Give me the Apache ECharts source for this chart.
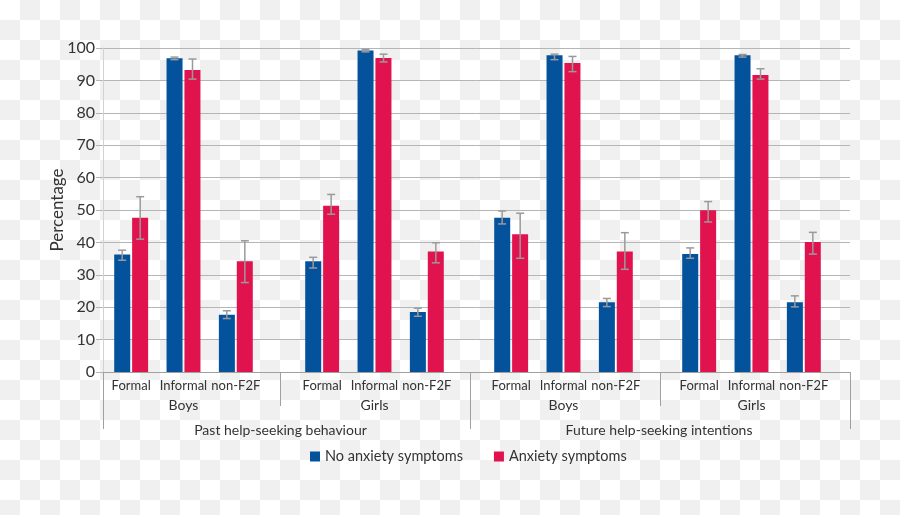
<!DOCTYPE html>
<html>
<head>
<meta charset="utf-8">
<script src="https://cdn.jsdelivr.net/npm/echarts@6/dist/echarts.min.js"></script>
<style>
html,body{margin:0;padding:0;}
body{width:900px;height:515px;background-color:#fff;
background-image:conic-gradient(#f0f0f0 25%, #fff 0 50%, #f0f0f0 0 75%, #fff 0);
background-size:40px 40px;}
#chart{width:900px;height:515px;}
</style>
</head>
<body>
<div id="chart"></div>
<script>
const categories = ['Formal', 'Informal', 'non-F2F'];
const subgroups = ['Boys', 'Girls', 'Boys', 'Girls'];
const groups = ['Past help-seeking behaviour', 'Future help-seeking intentions'];
const yTicks = [0, 10, 20, 30, 40, 50, 60, 70, 80, 90, 100];
const seriesNames = ['No anxiety symptoms', 'Anxiety symptoms'];

// 12 values each: Past Boys (F, I, n), Past Girls, Future Boys, Future Girls
const noAnx     = [36.3, 96.8, 17.7, 34.2, 99.2, 18.5, 47.6, 97.8, 21.5, 36.4, 97.8, 21.5];
const noAnxLow  = [34.5, 96.4, 16.5, 32.1, 98.8, 17.2, 45.7, 96.4, 20.2, 35.1, 97.2, 20.1];
const noAnxHigh = [37.6, 97.2, 18.9, 35.4, 99.6, 19.7, 49.7, 98.1, 22.7, 38.3, 98.0, 23.5];
const anx       = [47.6, 93.2, 34.2, 51.3, 96.9, 37.2, 42.5, 95.4, 37.2, 49.9, 91.7, 40.1];
const anxLow    = [41.0, 90.4, 27.6, 48.7, 95.7, 33.7, 35.1, 92.7, 31.7, 46.3, 90.4, 36.4];
const anxHigh   = [54.1, 96.6, 40.5, 54.8, 98.1, 39.9, 49.0, 97.4, 43.0, 52.6, 93.6, 43.1];

const FONT = 'Lato';
const TXT = '#333';
const BLUE = '#03529b';
const RED = '#e1134f';
const TOP = 48, H = 324;

const barGridLeft = [105, 296, 485, 673];
const barGridW = 157;
const sepLeft = [103, 280, 470, 660, 850];
const grpLeft = [103, 470, 850];

const grid = [], xAxis = [], yAxis = [], series = [];
// main grid
grid.push({left: 103, width: 747, top: TOP, height: H});
xAxis.push({type: 'category', gridIndex: 0, data: [''], show: false});
yAxis.push({type: 'value', gridIndex: 0, min: yTicks[0], max: yTicks[yTicks.length - 1], interval: 10,
  axisLine: {show: true, lineStyle: {color: '#d2d2d2', width: 1}},
  axisTick: {show: true, length: 7, lineStyle: {color: '#b5b5b5'}},
  axisLabel: {color: TXT, fontSize: 16, fontFamily: FONT, margin: 8},
  splitLine: {show: true, lineStyle: {color: '#b5b5b5', width: 1}},
  name: 'Percentage', nameLocation: 'middle', nameGap: 37, nameMoveOverlap: false,
  nameTextStyle: {color: TXT, fontSize: 17, fontFamily: FONT}
});

function errItem(offset) {
  return function (params, api) {
    const idx = api.value(0);
    const x = api.coord([idx, 0])[0] + offset;
    const yl = api.coord([idx, api.value(1)])[1];
    const yh = api.coord([idx, api.value(2)])[1];
    const st = {stroke: '#9a9a9a', lineWidth: 1.5};
    return {type: 'group', children: [
      {type: 'line', shape: {x1: x, y1: yl, x2: x, y2: yh}, style: st},
      {type: 'line', shape: {x1: x - 4, y1: yl, x2: x + 4, y2: yl}, style: st},
      {type: 'line', shape: {x1: x - 4, y1: yh, x2: x + 4, y2: yh}, style: st}
    ]};
  };
}

for (let g = 0; g < 4; g++) {
  const gi = grid.length;
  grid.push({left: barGridLeft[g], width: barGridW, top: TOP, height: H});
  const xa = xAxis.length;
  xAxis.push({type: 'category', gridIndex: gi, data: categories, position: 'bottom', offset: 0,
    axisLine: {show: false}, axisTick: {show: false},
    axisLabel: {color: TXT, fontSize: 13, fontFamily: FONT, margin: 7, interval: 0}});
  xAxis.push({type: 'category', gridIndex: gi, data: ['', subgroups[g], ''], position: 'bottom', offset: 0,
    axisLine: {show: false}, axisTick: {show: false},
    axisLabel: {color: TXT, fontSize: 14, fontFamily: FONT, margin: 26, interval: 0}});
  const ya = yAxis.length;
  yAxis.push({type: 'value', gridIndex: gi, min: 0, max: 100, show: false});
  const sl = (a) => a.slice(g * 3, g * 3 + 3);
  series.push({type: 'bar', name: seriesNames[0], xAxisIndex: xa, yAxisIndex: ya,
    data: sl(noAnx), barWidth: 16, barGap: '12%', itemStyle: {color: BLUE}});
  series.push({type: 'bar', name: seriesNames[1], xAxisIndex: xa, yAxisIndex: ya,
    data: sl(anx), barWidth: 16, barGap: '12%', itemStyle: {color: RED}});
  const lo0 = sl(noAnxLow), hi0 = sl(noAnxHigh), lo1 = sl(anxLow), hi1 = sl(anxHigh);
  series.push({type: 'custom', name: 'err0', xAxisIndex: xa, yAxisIndex: ya, z: 5,
    renderItem: errItem(-9), data: categories.map((c, i) => [i, lo0[i], hi0[i]])});
  series.push({type: 'custom', name: 'err1', xAxisIndex: xa, yAxisIndex: ya, z: 5,
    renderItem: errItem(9), data: categories.map((c, i) => [i, lo1[i], hi1[i]])});
}

// level-2 separators
for (let s = 0; s < 4; s++) {
  const gi = grid.length;
  grid.push({left: sepLeft[s], width: sepLeft[s + 1] - sepLeft[s], top: TOP, height: H});
  xAxis.push({type: 'category', gridIndex: gi, data: [''], position: 'bottom', offset: 0,
    axisLine: {show: true, lineStyle: {color: '#a0a0a0'}},
    axisTick: {show: true, length: 34, interval: 0, lineStyle: {color: '#a0a0a0'}},
    axisLabel: {show: false}});
  yAxis.push({type: 'value', gridIndex: gi, show: false});
}
// level-3 groups
for (let s = 0; s < 2; s++) {
  const gi = grid.length;
  grid.push({left: grpLeft[s], width: grpLeft[s + 1] - grpLeft[s], top: TOP, height: H});
  xAxis.push({type: 'category', gridIndex: gi, data: [groups[s]], position: 'bottom', offset: 0,
    axisLine: {show: true, lineStyle: {color: '#a0a0a0'}},
    axisTick: {show: true, length: 57, interval: 0, lineStyle: {color: '#a0a0a0'}},
    axisLabel: {color: TXT, fontSize: 14, fontFamily: FONT, margin: 51, interval: 0,
      padding: s === 0 ? [0, 12, 0, 0] : [0, 2, 0, 0]}});
  yAxis.push({type: 'value', gridIndex: gi, show: false});
}

const chart = echarts.init(document.getElementById('chart'), null, {renderer: 'canvas'});
chart.setOption({
  backgroundColor: 'transparent',
  animation: false,
  textStyle: {fontFamily: FONT},
  legend: {data: seriesNames, left: 305, top: 444, itemWidth: 10, itemHeight: 10,
    itemGap: 31, icon: 'rect',
    textStyle: {color: TXT, fontSize: 14.5, fontFamily: FONT}},
  grid, xAxis, yAxis, series
});
</script>
</body>
</html>
